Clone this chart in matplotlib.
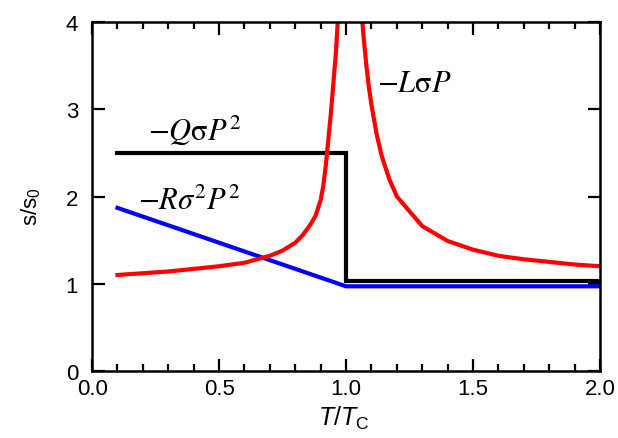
import numpy as np
import matplotlib
matplotlib.use("Agg")
import matplotlib.pyplot as plt
from matplotlib.ticker import MultipleLocator, FormatStrFormatter

plt.rcParams['font.family'] = ['Liberation Sans', 'DejaVu Sans']
plt.rcParams['mathtext.fontset'] = 'custom'
plt.rcParams['mathtext.rm'] = 'Liberation Sans'
plt.rcParams['mathtext.it'] = 'Liberation Sans:italic'

# -L sigma P term, diverges at T = Tc
t_lo = [0.1, 0.2, 0.3, 0.4, 0.5, 0.6, 0.7, 0.75, 0.8, 0.83, 0.86, 0.88, 0.9,
        0.91, 0.92, 0.93, 0.94, 0.95, 0.96, 0.97, 0.98]
s_lo = [1.10, 1.12, 1.14, 1.17, 1.20, 1.24, 1.32, 1.38, 1.47, 1.56, 1.68, 1.78, 1.96,
        2.12, 2.35, 2.65, 2.95, 3.3, 3.65, 4.15, 4.8]
t_hi = [1.05, 1.06, 1.07, 1.08, 1.09, 1.1, 1.12, 1.14, 1.17, 1.2, 1.3, 1.4, 1.5,
        1.6, 1.7, 1.8, 1.9, 2.0]
s_hi = [4.6, 4.15, 3.8, 3.5, 3.25, 3.05, 2.72, 2.47, 2.2, 2.0, 1.66, 1.49, 1.39,
        1.32, 1.28, 1.25, 1.22, 1.20]

# -Q sigma P^2 term (step at Tc)
t_q = [0.1, 1.0, 1.0, 2.0]
s_q = [2.5, 2.5, 1.03, 1.03]

# -R sigma^2 P^2 term
t_r = [0.1, 1.0, 2.0]
s_r = [1.87, 0.97, 0.97]

fig = plt.figure(figsize=(6.18, 4.39), dpi=100)
ax = fig.add_axes([0.149, 0.153, 0.822, 0.794])

ax.plot(t_q, s_q, color='black', lw=3, solid_joinstyle='miter')
ax.plot(t_r, s_r, color='blue', lw=3)
ax.plot(t_lo, s_lo, color='red', lw=3)
ax.plot(t_hi, s_hi, color='red', lw=3)

tfont = dict(fontsize=22, math_fontfamily='stix', va='center')
ax.text(0.22, 2.77, r'$-Q\mathrm{\sigma} P^2$', **tfont)
ax.text(0.18, 1.95, r'$-R\sigma^2 P^2$', **tfont)
ax.text(1.12, 3.3, r'$-L\mathrm{\sigma} P$', **tfont)

ax.set_xlim(0, 2)
ax.set_ylim(0, 4)
ax.xaxis.set_major_locator(MultipleLocator(0.5))
ax.xaxis.set_minor_locator(MultipleLocator(0.1))
ax.yaxis.set_major_locator(MultipleLocator(1))
ax.xaxis.set_major_formatter(FormatStrFormatter('%.1f'))
ax.tick_params(which='both', direction='in', top=True, right=True, labelsize=16, width=1.6)
ax.tick_params(which='major', length=9)
ax.tick_params(which='minor', length=5)
ax.tick_params(axis='x', pad=5)
ax.tick_params(axis='y', pad=10)
for sp in ax.spines.values():
    sp.set_linewidth(1.8)

ax.set_xlabel(r'$T$/$T_{\mathrm{C}}$', fontsize=18)
ax.set_ylabel(r's/s$_0$', fontsize=16)
ax.xaxis.set_label_coords(0.495, -0.095)
ax.yaxis.set_label_coords(-0.097, 0.475)

fig.savefig("out.png", dpi=100)
